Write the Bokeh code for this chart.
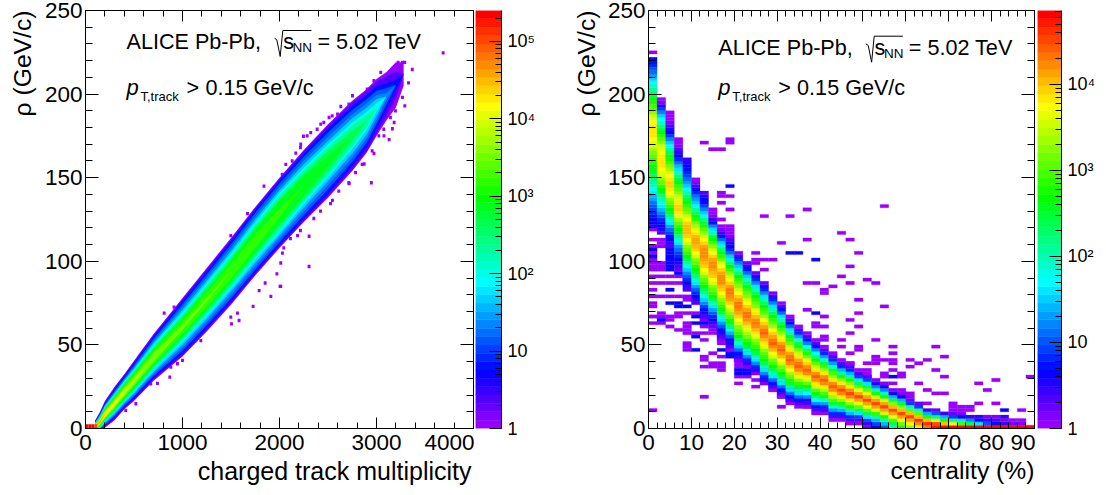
from bokeh.embed import file_html
from bokeh.layouts import row
from bokeh.models import (ColumnDataSource, CustomJSTickFormatter, FixedTicker, Label,
                          LinearAxis, LogColorMapper, Range1d, Title)
from bokeh.plotting import figure
from bokeh.resources import INLINE
from bokeh.transform import transform

FONT = "Liberation Sans"
PAL_STOPS = [(0.0, (153, 0, 255)), (0.13, (0, 0, 255)), (0.347, (0, 255, 255)),
             (0.553, (0, 255, 0)), (0.777, (255, 255, 0)), (1.0, (255, 0, 0))]

# ---- data: left panel, density contours of the band (half widths in GeV/c around the ridge)
left_mult = [100, 150, 200, 300, 400, 500, 700, 1000, 1250, 1500, 1750, 2000, 2250, 2500, 2750, 2900, 3000, 3100, 3200, 3280]
left_ridge = [1, 4, 8.5, 15, 22, 28.5, 42.4, 60.5, 77, 94, 112, 129, 145, 160, 175, 184, 192, 198.5, 205.5, 212]
left_levels = [0, 3, 7, 10, 13, 16, 19, 22, 25, 28, 31, 34, 37, 40, 43, 46]  # ten*log10(count)
hw_00 = [4, 6, 8, 10, 10.5, 12, 14, 17.5, 19, 20, 20.5, 21, 21.5, 22, 21, 19, 17, 14.5, 13.5, 7]
hw_03 = [3.6, 5.4, 7.3, 9.3, 10, 11.3, 13.3, 16.8, 18.3, 19.3, 19.8, 20.3, 20.8, 21, 20, 18, 15.5, 12, 8, 0]
hw_07 = [3.3, 5, 6.7, 8.5, 9.2, 10.5, 12.3, 15.7, 17, 18, 18.7, 19.2, 19.5, 19.5, 18, 15.5, 12.5, 8, 3, 0]
hw_10 = [3, 4.6, 6.2, 7.7, 8.4, 9.5, 11.2, 14, 15.2, 16.2, 17, 17.5, 17.5, 17, 15.5, 13, 10, 5, 0, 0]
hw_13 = [2.8, 4.2, 5.6, 6.8, 7.5, 8.4, 9.9, 12.3, 13.5, 14.3, 15, 15.5, 15.2, 14.5, 13, 10.5, 7.5, 2, 0, 0]
hw_16 = [2.5, 3.8, 5.1, 6.2, 6.8, 7.6, 8.7, 10.5, 11.5, 12.2, 13, 13.5, 13, 12, 10.5, 8, 5, 0, 0, 0]
hw_19 = [2.3, 3.4, 4.6, 5.5, 6.2, 6.8, 7.7, 9, 10, 10.7, 11.3, 12, 11, 10, 8, 5.5, 2.5, 0, 0, 0]
hw_22 = [2, 3, 4.1, 5, 5.5, 6, 6.7, 7.5, 8.5, 9, 9.6, 10, 9, 8, 6, 3.5, 0, 0, 0, 0]
hw_25 = [1.8, 2.7, 3.6, 4.4, 4.8, 5.2, 5.7, 6.5, 7, 7.5, 8, 8, 7.5, 6, 3, 0, 0, 0, 0, 0]
hw_28 = [1.6, 2.4, 3.1, 3.8, 4.2, 4.4, 4.7, 5.5, 5.8, 6.2, 7, 7, 6, 3, 0, 0, 0, 0, 0, 0]
hw_31 = [1.4, 2.1, 2.7, 3.2, 3.4, 3.6, 3.8, 4, 4.5, 4.5, 4, 2.5, 0, 0, 0, 0, 0, 0, 0, 0]
hw_34 = [1.2, 1.8, 2.3, 2.6, 2.6, 2.6, 2.5, 1.5, 1, 0, 0, 0, 0, 0, 0, 0, 0, 0, 0, 0]
hw_37 = [1, 1.5, 1.8, 1.8, 1.6, 1, 0, 0, 0, 0, 0, 0, 0, 0, 0, 0, 0, 0, 0, 0]
hw_40 = [0.8, 1.1, 1.3, 0.7, 0, 0, 0, 0, 0, 0, 0, 0, 0, 0, 0, 0, 0, 0, 0, 0]
hw_43 = [0.6, 0.8, 0.8, 0, 0, 0, 0, 0, 0, 0, 0, 0, 0, 0, 0, 0, 0, 0, 0, 0]
hw_46 = [0.4, 0.5, 0, 0, 0, 0, 0, 0, 0, 0, 0, 0, 0, 0, 0, 0, 0, 0, 0, 0]
left_half_widths = [hw_00, hw_03, hw_07, hw_10, hw_13, hw_16, hw_19, hw_22, hw_25, hw_28, hw_31, hw_34, hw_37, hw_40, hw_43, hw_46]
left_floor_mult = [0, 30, 60, 90]
left_floor_v = [53, 53, 53, 50]
left_out_mult = [3687, 3369, 3330, 3268, 3292, 3223, 3292, 3268, 3182, 3130, 2947, 2305, 2247, 2752, 2632, 3044, 3164, 3250, 3199,
                 2511, 2598, 2425, 2322, 2219, 2168, 2065, 2546, 2718, 2873, 2974, 3077, 3164, 2186, 811, 913, 869, 1000, 948, 879,
                 742, 673, 519, 415, 1189, 1137, 1498, 1505, 1583, 1567, 1728, 1790, 1911, 1852, 2006, 1973, 2305, 2013, 2030, 2013,
                 2044, 1943, 1840, 1670, 1498,
                 3110, 3196, 3162, 3230, 2973, 2904, 2835, 2715, 2543, 2457, 2388, 2285, 2216, 2131, 2028,
                 3196, 3144, 3075, 3024, 2955, 2852, 2784, 2715, 2611, 2526, 2423, 2354, 2216, 2113]
left_out_rho = [224.7, 214.7, 206.7, 219, 219, 219, 193, 198, 183, 172.8, 147, 115, 174.8, 199, 192.6, 213, 215, 210, 206,
                186, 188, 182, 177, 170, 164.7, 158, 136.4, 146.5, 158.2, 164.5, 175, 179.3, 115.4, 69, 72.6, 30.7, 40.7, 38.7, 36.7,
                27, 26.7, 14.8, 10.8, 52.6, 52.6, 66.6, 62.6, 64.6, 69, 73, 82.5, 79, 87, 85, 92.5, 96.9, 85, 104.9, 99,
                108, 144, 145, 128.5, 115.4,
                211, 213, 209, 206, 208, 203, 198, 194, 187, 183, 179, 175, 168, 160, 152,
                190, 186, 179, 175, 166, 158, 153, 147, 142, 134.5, 130, 125.6, 118.4, 113.6]

# ---- data: right panel, per centrality bin: first 2 GeV/c bin and ten*log10(count) of each bin upward
right_band = [
    (60, [5, 6, 6, 7, 8, 9, 10, 11, 13, 14, 16, 17, 19, 20, 22, 24, 25, 26, 27, 29, 30, 31, 32, 34, 35, 36, 37, 38, 38, 38, 38, 37, 36, 35, 33, 31, 30, 28, 27, 25, 23, 21, 19, 17, 15, 13, 11, 10, 8, 7, 6]),
    (58, [3, 5, 6, 7, 8, 10, 12, 14, 16, 18, 20, 22, 25, 27, 29, 31, 33, 35, 36, 37, 38, 38, 38, 38, 37, 36, 35, 33, 31, 29, 27, 25, 22, 19, 17, 15, 12, 9, 5, 1, 0]),
    (54, [3, 4, 6, 7, 9, 11, 13, 16, 19, 22, 25, 27, 29, 31, 33, 35, 37, 38, 39, 39, 38, 37, 36, 34, 32, 30, 28, 26, 24, 21, 18, 15, 12, 9, 6, 5, 3, 1, 0, 0, 0]),
    (47, [2, 3, 5, 6, 8, 9, 11, 13, 16, 19, 22, 25, 27, 29, 31, 34, 36, 38, 39, 39, 38, 36, 35, 33, 31, 29, 27, 25, 22, 19, 16, 14, 11, 8, 6, 5, 3, 1, 0, 0]),
    (41, [3, 4, 6, 8, 10, 12, 15, 18, 21, 24, 27, 29, 31, 33, 35, 37, 39, 40, 40, 40, 39, 37, 35, 33, 31, 29, 27, 25, 23, 20, 17, 15, 13, 11, 9, 8, 7, 6, 5, 4]),
    (37, [3, 4, 6, 8, 10, 13, 16, 19, 22, 25, 27, 29, 31, 33, 35, 37, 39, 40, 41, 41, 40, 38, 36, 34, 32, 29, 27, 24, 21, 18, 15, 13, 11, 8, 6, 4, 1, 0]),
    (32, [1, 3, 5, 7, 9, 12, 15, 18, 21, 24, 27, 29, 31, 33, 35, 37, 39, 40, 41, 42, 42, 42, 41, 39, 37, 35, 33, 31, 28, 25, 22, 18, 15, 12, 9, 7, 6, 5, 3]),
    (29, [0, 2, 4, 6, 8, 10, 13, 16, 20, 24, 27, 29, 31, 33, 35, 37, 39, 40, 41, 42, 42, 41, 39, 37, 35, 33, 30, 27, 24, 20, 16, 12, 7, 4, 1, 0, 0]),
    (26, [1, 3, 5, 7, 10, 13, 16, 20, 24, 27, 29, 31, 33, 35, 37, 39, 40, 42, 42, 42, 41, 39, 37, 35, 32, 29, 27, 23, 19, 15, 11, 7, 4, 1, 0]),
    (23, [0, 3, 5, 7, 10, 14, 18, 22, 26, 28, 31, 33, 35, 37, 39, 41, 42, 43, 43, 41, 39, 37, 35, 33, 30, 27, 23, 19, 15, 11, 8, 6, 5, 3, 1, 0, 0, 0]),
    (20, [1, 4, 7, 11, 15, 19, 23, 27, 29, 31, 33, 35, 37, 39, 41, 42, 43, 43, 41, 39, 37, 35, 33, 31, 29, 27, 23, 19, 15, 12, 8, 4, 1]),
    (18, [1, 4, 8, 12, 16, 20, 25, 27, 29, 32, 34, 36, 38, 40, 42, 43, 43, 41, 39, 37, 35, 33, 31, 29, 26, 23, 19, 15, 11, 7, 5, 2]),
    (16, [1, 4, 8, 12, 16, 20, 24, 27, 29, 31, 33, 36, 38, 40, 42, 43, 42, 40, 38, 36, 33, 31, 29, 27, 24, 20, 16, 12, 8, 5, 2]),
    (13, [1, 4, 8, 12, 16, 20, 24, 27, 29, 31, 33, 36, 38, 40, 42, 44, 43, 41, 39, 37, 34, 31, 29, 27, 24, 20, 16, 12, 8, 5, 2]),
    (11, [0, 3, 7, 11, 16, 20, 24, 27, 30, 32, 35, 37, 40, 42, 44, 43, 41, 39, 37, 34, 31, 29, 27, 24, 20, 16, 12, 8, 4, 1]),
    (9, [0, 3, 7, 11, 16, 20, 24, 27, 30, 32, 35, 37, 40, 42, 44, 43, 41, 38, 36, 33, 30, 27, 24, 20, 16, 11, 7, 3, 0]),
    (7, [0, 3, 7, 11, 16, 21, 25, 28, 31, 34, 37, 39, 42, 44, 43, 41, 38, 35, 32, 29, 26, 21, 16, 11, 7, 3, 0]),
    (6, [0, 3, 7, 11, 16, 21, 26, 29, 33, 36, 39, 42, 44, 43, 41, 38, 35, 32, 28, 24, 19, 13, 8, 4, 0]),
    (6, [0, 3, 7, 12, 17, 22, 27, 31, 35, 38, 42, 44, 42, 39, 36, 32, 28, 23, 17, 12, 7, 3, 0]),
    (4, [0, 3, 7, 12, 17, 22, 27, 31, 35, 38, 42, 44, 42, 38, 35, 31, 27, 22, 17, 12, 7, 3, 0]),
    (4, [0, 3, 8, 13, 19, 25, 30, 34, 38, 42, 44, 42, 38, 34, 30, 25, 19, 13, 8, 3, 0]),
    (2, [0, 3, 8, 13, 19, 25, 30, 34, 38, 42, 44, 42, 38, 34, 30, 25, 19, 13, 8, 3, 0]),
    (2, [0, 3, 8, 14, 21, 28, 33, 38, 42, 45, 42, 38, 33, 28, 21, 14, 8, 3, 0]),
    (1, [0, 3, 8, 14, 21, 28, 33, 38, 42, 45, 42, 38, 33, 28, 21, 14, 8, 3, 0]),
    (1, [0, 3, 9, 16, 24, 31, 36, 41, 45, 41, 36, 31, 24, 16, 9, 3, 0]),
    (0, [2, 4, 9, 16, 24, 31, 36, 41, 45, 41, 36, 31, 24, 16, 9, 3, 0]),
    (0, [6, 9, 14, 21, 29, 35, 41, 45, 41, 35, 28, 20, 12, 5, 1]),
    (0, [10, 14, 20, 28, 35, 41, 45, 41, 35, 28, 20, 12, 5, 1]),
    (0, [20, 24, 30, 36, 41, 45, 40, 33, 24, 14, 6, 1]),
    (0, [28, 32, 36, 41, 45, 40, 33, 24, 14, 6, 1]),
    (0, [33, 37, 41, 45, 40, 31, 20, 9, 2]),
    (0, [38, 42, 46, 40, 31, 20, 9, 2]),
    (0, [43, 46, 40, 28, 14, 4]),
    (0, [47, 45, 36, 22, 10, 2]),
    (0, [48, 40, 28, 14, 4]),
    (0, [48, 36, 22, 9, 2]),
    (0, [48, 30, 16, 6, 1]),
    (0, [48, 24, 12, 4]),
    (0, [48, 16, 7, 4]),
    (0, [48, 10, 4, 1]),
    (0, [48, 7, 3, 1]),
    (0, [48, 4, 1, 4]),
    (0, [48, 2, 0]),
    (0, [48, 1, 0]),
    (0, [48]),
]
right_single = {0: [5, 31, 33, 36, 37, 39, 41, 43, 45, 47, 48, 49, 50, 52, 54, 56, 59, 112], 1: [31, 33, 34, 39, 43, 45, 47, 48, 49, 54, 55, 56],
                2: [30, 32, 33, 39, 43, 45], 3: [29, 33, 34, 39, 43, 45], 4: [23, 24, 25, 28, 29, 30, 31, 34, 38, 39, 43, 44, 45],
                5: [28, 34, 38, 41], 6: [9, 18, 20, 21, 26, 28, 30, 85], 7: [18, 19, 22, 28, 83], 8: [17, 18, 19, 21, 25, 26, 27, 28, 62, 67, 69, 70, 83],
                9: [25, 26, 27, 28, 65, 69, 85, 86], 10: [13, 15, 18, 19], 11: [15, 18, 19], 12: [12, 14, 49, 50, 52], 13: [17, 47, 50, 63],
                14: [11, 50], 15: [6, 11, 12, 14, 55], 16: [63], 18: [6, 7, 35, 43, 56, 65], 19: [6, 7, 30, 31, 43], 20: [5, 6, 26, 27, 30, 33, 40, 41],
                21: [4, 5, 6, 42], 22: [3, 4, 24, 26, 45, 58], 23: [19, 22, 28, 32, 43, 48, 56], 24: [23, 24, 30, 34, 38, 52], 25: [15, 17, 19, 44],
                26: [19, 20, 21, 26, 43], 27: [15, 16, 20, 36, 66], 28: [13, 17, 19, 20, 22, 24], 29: [10, 11, 15, 16], 30: [9, 10, 18, 20], 31: [13, 19],
                32: [7, 11, 20], 33: [10, 17, 24], 34: [10, 15, 21], 35: [5, 6, 7], 36: [5, 6], 37: [5, 6], 38: [7, 13], 39: [11], 40: [7, 14], 43: [5], 44: [15]}
right_few = {0: [51, 53], 1: [32], 2: [37, 41, 47, 48, 49, 50, 51, 52, 53, 54], 3: [36, 37, 46], 4: [36], 5: [23, 27, 31, 33], 6: [31, 32, 33], 8: [23, 29, 30, 31],
             9: [21, 22, 23, 29, 72], 10: [16, 17, 20, 21, 22, 23], 11: [16, 17, 20, 21, 22, 23], 12: [16, 17, 18, 19], 13: [13, 14, 15], 14: [12, 13, 14, 15],
             15: [9, 10, 13], 16: [8, 9, 10, 11, 52], 17: [8, 9, 10, 11, 52], 18: [9], 19: [34, 50], 28: [15], 41: [5]}

# ---- axes
left_x_major = [0, 1000, 2000, 3000, 4000]
left_x_minor = [200, 400, 600, 800, 1200, 1400, 1600, 1800, 2200, 2400, 2600, 2800, 3200, 3400, 3600, 3800]
right_x_major = [0, 10, 20, 30, 40, 50, 60, 70, 80, 90]
right_x_minor = [v for v in range(0, 91, 2) if v % 10]
rho_major = [0, 50, 100, 150, 200, 250]
rho_minor = [v for v in range(0, 251, 10) if v % 50]
left_z_max = 2.5e5
right_z_max = 7.2e4
z_major_left = [1, 10, 100, 1000, 10000, 100000]
z_major_right = [1, 10, 100, 1000, 10000]
z_labels = {1: "1", 10: "10", 100: "10\u00b2", 1000: "10\u00b3", 10000: "10\u2074", 100000: "10\u2075"}


def make_palette(n=50):
    out = []
    for i in range(n):
        f = i / (n - 1)
        for (a, ca), (b, cb) in zip(PAL_STOPS[:-1], PAL_STOPS[1:]):
            if a <= f <= b:
                t = (f - a) / (b - a)
                c = [round(x + (y - x) * t) for x, y in zip(ca, cb)]
                out.append("#%02x%02x%02x" % tuple(c))
                break
    return out


PAL = make_palette()
TOP, FRAME_H, BOTTOM = 10, 418, 66
HIDE = CustomJSTickFormatter(code="return ''")


def main_fig(width, border_left, xmax, xmajor, xminor, xtitle, xoffset, xsize, ystand):
    p = figure(width=width, height=TOP + FRAME_H + BOTTOM, x_range=Range1d(0, xmax), y_range=Range1d(0, 250),
               output_backend="svg", toolbar_location=None, min_border_left=border_left, min_border_right=1,
               min_border_top=TOP, min_border_bottom=BOTTOM)
    p.grid.visible = False
    p.outline_line_color = "black"
    p.background_fill_color = "white"
    xt = FixedTicker(ticks=xmajor, minor_ticks=xminor)
    yt = FixedTicker(ticks=rho_major, minor_ticks=rho_minor)
    for ax, t, maj, mnr in ((p.xaxis[0], xt, 11, 6), (p.yaxis[0], yt, 13, 7)):
        ax.ticker = t
        ax.major_tick_in, ax.major_tick_out = maj, 0
        ax.minor_tick_in, ax.minor_tick_out = mnr, 0
        ax.major_label_text_font = FONT
        ax.major_label_text_font_size = "22.5px"
        ax.major_label_text_color = "black"
    p.xaxis[0].major_label_standoff = 6
    p.yaxis[0].major_label_standoff = 3
    p.add_layout(Title(text=xtitle, align="right", offset=xoffset, standoff=5, text_font=FONT, text_font_style="normal",
                       text_font_size=xsize, text_color="black"), "below")
    p.add_layout(Title(text="\u03c1 (GeV/c)", align="right", offset=0, standoff=ystand, text_font=FONT, text_font_style="normal",
                       text_font_size="24.7px", text_color="black"), "left")
    p.add_layout(LinearAxis(ticker=xt, formatter=HIDE, major_tick_in=11, major_tick_out=0, minor_tick_in=6,
                            minor_tick_out=0, major_label_standoff=0), "above")
    p.add_layout(LinearAxis(ticker=yt, formatter=HIDE, major_tick_in=13, major_tick_out=0, minor_tick_in=7,
                            minor_tick_out=0, major_label_standoff=0), "right")
    return p


def palette_fig(width, border_left, border_right, zmax, majors):
    p = figure(width=width, height=TOP + FRAME_H + BOTTOM, x_range=Range1d(0, 1), y_range=Range1d(1, zmax), y_axis_type="log",
               y_axis_location="right", output_backend="svg", toolbar_location=None, min_border_left=border_left,
               min_border_right=border_right, min_border_top=TOP, min_border_bottom=BOTTOM)
    p.grid.visible = False
    p.outline_line_color = None
    p.xaxis.visible = False
    edges = [zmax ** (i / 50) for i in range(51)]
    p.quad(left=0, right=1, bottom=edges[:-1], top=edges[1:], fill_color=PAL, line_color=PAL, line_width=0.5)
    minors = [m * d for d in [1, 10, 100, 1000, 10000, 100000] for m in range(2, 10) if m * d < zmax]
    ax = p.yaxis[0]
    ax.ticker = FixedTicker(ticks=majors, minor_ticks=minors)
    ax.major_label_overrides = {m: z_labels[m] for m in majors}
    ax.major_tick_in, ax.major_tick_out = 12, 0
    ax.minor_tick_in, ax.minor_tick_out = 6, 0
    ax.major_label_text_font = FONT
    ax.major_label_text_font_size = "18px"
    ax.major_label_text_color = "black"
    ax.major_label_standoff = 6
    return p


def annotate(p, fx, fy, items):
    for t, px, py, size, style in items:
        p.add_layout(Label(x=fx(px), y=fy(py), x_units="data", y_units="data", text=t, text_font=FONT, text_font_size=size,
                           text_font_style=style, text_color="black", text_align="left", text_baseline="alphabetic"))


def head_text(dx, dy):
    return [("ALICE Pb-Pb,", 126 + dx, 41.3 + dy, "21.6px", "normal"),
            ("s", 282.7 + dx, 41.3 + dy, "21.6px", "normal"),
            ("NN", 292 + dx, 47 + dy, "13.5px", "normal"),
            ("= 5.02 TeV", 317 + dx, 41.3 + dy, "21.6px", "normal"),
            ("p", 126 + dx, 87, "22px", "italic"),
            ("T,track", 140 + dx, 95.5, "13px", "normal"),
            (">", 186 + dx, 86.5, "21.6px", "normal"),
            ("0.15 GeV/c", 205 + dx, 86.5, "21.6px", "normal")]


# ---- left panel
pl = main_fig(474, 85, 4000, left_x_major, left_x_minor, "charged track multiplicity", 2, "25px", 11)
lx = lambda px: (px - 85) / 388 * 4000
ly = lambda py: (428 - py) / 418 * 250
pl.quad(left=[m - 15 for m in left_out_mult], right=[m + 15 for m in left_out_mult],
        bottom=[r - 1 for r in left_out_rho], top=[r + 1 for r in left_out_rho], fill_color=PAL[0], line_color=None)
for lev, hw in zip(left_levels, left_half_widths):
    color = PAL[min(49, int((lev + 1) / 53.9 * 50))]
    pl.varea(x=left_mult, y1=[r - h for r, h in zip(left_ridge, hw)], y2=[r + h for r, h in zip(left_ridge, hw)], fill_color=color)
left_mapper = LogColorMapper(palette=PAL, low=1, high=left_z_max)
floor = ColumnDataSource(dict(l=left_floor_mult, r=[m + 30 for m in left_floor_mult], c=[10 ** (v / 10) for v in left_floor_v]))
pl.quad(left="l", right="r", bottom=0, top=2.5, source=floor, fill_color=transform("c", left_mapper), line_color=None)
annotate(pl, lx, ly, head_text(0, 0))
pl.line(x=[lx(v) for v in (274, 276.3, 279.7, 282.3, 311)], y=[ly(v) for v in (37.6, 39.3, 56, 30, 30)], line_color="black", line_width=1)

# ---- right panel
pr = main_fig(470, 82, 90, right_x_major, right_x_minor, "centrality (%)", 0, "24.7px", 10)
rx = lambda px: (px - 647) / 387 * 90
ry = ly
right_mapper = LogColorMapper(palette=PAL, low=1, high=right_z_max)
cl, kb, cnt = [], [], []
for col, ks in right_single.items():
    for k in ks:
        cl.append(col); kb.append(k); cnt.append(1)
for col, ks in right_few.items():
    for k in ks:
        cl.append(col); kb.append(k); cnt.append(4)
for col, (start, vals) in enumerate(right_band):
    for i, v in enumerate(vals):
        cl.append(col); kb.append(start + i); cnt.append(10 ** (v / 10))
cells = ColumnDataSource(dict(l=[2 * c for c in cl], r=[2 * c + 2 for c in cl], b=[2 * k for k in kb], t=[2 * k + 2 for k in kb], c=cnt))
pr.quad(left="l", right="r", bottom="b", top="t", source=cells, fill_color=transform("c", right_mapper),
        line_color=transform("c", right_mapper), line_width=0.3)
annotate(pr, rx, ry, head_text(591, 5.5))
pr.line(x=[rx(v) for v in (865, 867.3, 870.7, 873.3, 902)], y=[ry(v) for v in (43.3, 45, 61.7, 35.7, 35.7)], line_color="black", line_width=1)

zl = palette_fig(91, 1, 64, left_z_max, z_major_left)
zr = palette_fig(63, 2, 36, right_z_max, z_major_right)

layout = row(pl, zl, pr, zr, spacing=0)
open("out.html", "w").write(file_html(layout, INLINE))
